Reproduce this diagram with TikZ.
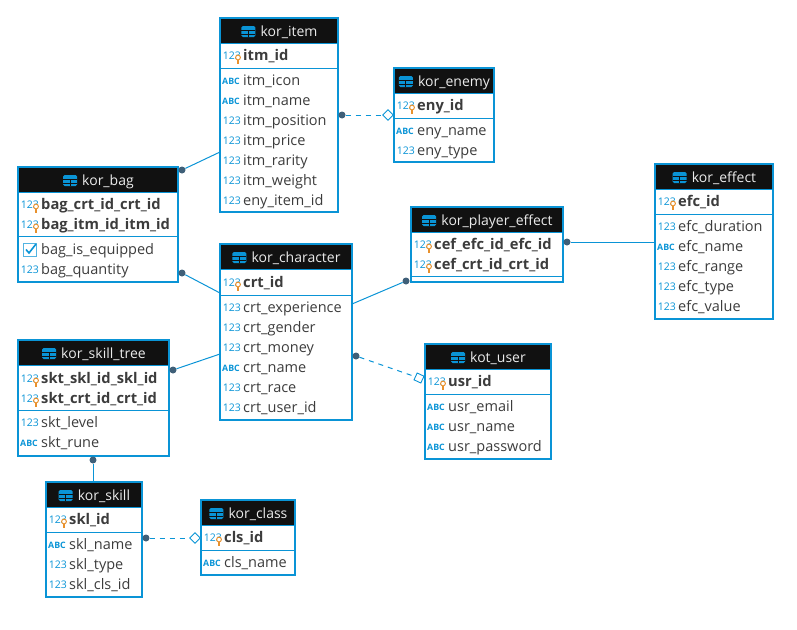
\documentclass[tikz,border=0pt]{standalone}
\usepackage{fontspec}
\setmainfont{Open Sans}
\usetikzlibrary{shapes.geometric}
\definecolor{erblue}{HTML}{0A94D6}
\definecolor{erink}{HTML}{3C3C3C}
\definecolor{erhead}{HTML}{111111}
\definecolor{erdot}{HTML}{3F5F78}
\definecolor{erbulb}{HTML}{E8912D}

\newcommand{\entity}[6]{% id, title, left, top, width, height
  \node[headbar, minimum width=#5] (#1-head) at (#3,#4) {};
  \node[tablebox, minimum width=#5, minimum height=#6] (#1) at (#3,#4) {};
  \node[headtitle] (#1-title) at ([xshift=10pt,yshift=-2pt]#1-head.center) {#2};
  \pic at ([xshift=-12pt,yshift=1pt]#1-title.west) {tableicon};
  \draw[rowrule] (#1-head.south west) -- (#1-head.south east);
}
\newcommand{\keyrows}[3]{% id, text x, rows
  \foreach \y/\t in {#3} {
    \node[keycol, name=#1-\y] at (#2,\y+1) {\t};
    \pic at ([xshift=-5pt,yshift=-3pt]#1-\y.west) {keybulb};
  }
}
\newcommand{\plainrows}[3]{% id, text x, rows
  \foreach \y/\kind/\t in {#3}
    \node[\kind, name=#1-\y] at (#2,\y+1) {\t};
}
\newcommand{\rowsplit}[2]{% id, y
  \draw[rowrule] (#1.west |- 0,#2) -- (#1.east |- 0,#2);
}

\begin{document}
\begin{tikzpicture}[x=1pt, y=-1pt,
    tablebox/.style={draw=erblue, line width=2pt, anchor=north west, inner sep=0pt, outer sep=0pt},
    headbar/.style={fill=erhead, anchor=north west, inner sep=0pt, outer sep=0pt, minimum height=25pt},
    headtitle/.style={text=white!92!black, font=\fontsize{14}{14}\selectfont, inner sep=0pt},
    rowrule/.style={erblue, line width=1pt},
    colname/.style={anchor=west, inner sep=0pt, text=erink, text height=10pt, text depth=3pt,
                    font=\fontsize{14.5}{14}\selectfont},
    typetag/.style={text=erblue, inner sep=0pt, yshift=1pt},
    numcol/.style={colname, label={[typetag, font=\fontsize{10.5}{10}\selectfont, label distance=2pt]left:123}},
    abccol/.style={colname, label={[typetag, font=\fontsize{8.8}{8}\bfseries\selectfont, label distance=3pt]left:ABC}},
    boolcol/.style={colname},
    keycol/.style={numcol, font=\fontsize{14.7}{14}\bfseries\selectfont},
    fkdot/.style={circle, fill=erdot, inner sep=0pt, minimum size=7pt},
    fkhollow/.style={diamond, draw=erblue, fill=white, line width=0.9pt, inner sep=0pt,
                     minimum width=11pt, minimum height=11pt},
    link/.style={erblue, line width=1pt},
    softlink/.style={link, dash pattern=on 5pt off 5pt},
    tableicon/.pic={
      \fill[erblue, rounded corners=1.5pt] (-7,-5.5) rectangle (7,5.5);
      \draw[erhead, line width=0.9pt] (-7,-1) -- (7,-1) (-7,2.5) -- (7,2.5) (0,-1) -- (0,5.5);
    },
    keybulb/.pic={
      \draw[erbulb, fill=white, line width=1pt] (0,-2.5) circle (2.4);
      \draw[erbulb, line width=1.2pt] (0,0) -- (0,3.5);
    },
    checkbox/.pic={
      \draw[erblue!70, line width=1pt] (-6.5,-6.5) rectangle (6.5,6.5);
      \draw[erblue, line width=1.6pt] (-4,-0.5) -- (-1,3) -- (6,-6);
    }]
  \useasboundingbox (0,0) rectangle (797,629);

  \entity{item}{kor\_item}{220}{18}{118}{194}
  \keyrows{item}{243}{56/itm\_id}
  \rowsplit{item}{68}
  \plainrows{item}{243}{81/abccol/itm\_icon, 101/abccol/itm\_name, 121/numcol/itm\_position,
    141/numcol/itm\_price, 161/numcol/itm\_rarity, 181/numcol/itm\_weight, 201/numcol/eny\_item\_id}

  \entity{enemy}{kor\_enemy}{394}{68}{100}{94}
  \keyrows{enemy}{417}{106/eny\_id}
  \rowsplit{enemy}{118}
  \plainrows{enemy}{417}{131/abccol/eny\_name, 151/numcol/eny\_type}

  \entity{bag}{kor\_bag}{18}{167}{160}{115}
  \keyrows{bag}{41}{205/bag\_crt\_id\_crt\_id, 225/bag\_itm\_id\_itm\_id}
  \rowsplit{bag}{236.5}
  \plainrows{bag}{41}{250/boolcol/bag\_is\_equipped, 270/numcol/bag\_quantity}
  \pic at (30,250) {checkbox};

  \entity{character}{kor\_character}{220}{244}{132}{176}
  \keyrows{character}{243}{283/crt\_id}
  \rowsplit{character}{295}
  \plainrows{character}{243}{308/numcol/crt\_experience, 328/numcol/crt\_gender, 348/numcol/crt\_money,
    368/abccol/crt\_name, 388/numcol/crt\_race, 408/numcol/crt\_user\_id}

  \entity{playereffect}{kor\_player\_effect}{411}{207}{152}{75}
  \keyrows{playereffect}{434}{245/cef\_efc\_id\_efc\_id, 265/cef\_crt\_id\_crt\_id}
  \rowsplit{playereffect}{276}

  \entity{effect}{kor\_effect}{655}{164}{118}{155}
  \keyrows{effect}{678}{202/efc\_id}
  \rowsplit{effect}{214}
  \plainrows{effect}{678}{227/numcol/efc\_duration, 247/abccol/efc\_name, 267/numcol/efc\_range,
    287/numcol/efc\_type, 307/numcol/efc\_value}

  \entity{user}{kot\_user}{425}{344}{126}{115}
  \keyrows{user}{448}{382/usr\_id}
  \rowsplit{user}{394}
  \plainrows{user}{448}{407/abccol/usr\_email, 427/abccol/usr\_name, 447/abccol/usr\_password}

  \entity{skilltree}{kor\_skill\_tree}{18}{340}{151}{116}
  \keyrows{skilltree}{41}{379/skt\_skl\_id\_skl\_id, 399/skt\_crt\_id\_crt\_id}
  \rowsplit{skilltree}{410}
  \plainrows{skilltree}{41}{423/numcol/skt\_level, 443/abccol/skt\_rune}

  \entity{skill}{kor\_skill}{46}{482}{96}{115}
  \keyrows{skill}{69}{520/skl\_id}
  \rowsplit{skill}{532}
  \plainrows{skill}{69}{545/abccol/skl\_name, 565/numcol/skl\_type, 585/numcol/skl\_cls\_id}

  \entity{class}{kor\_class}{201}{500}{94}{75}
  \keyrows{class}{224}{538/cls\_id}
  \rowsplit{class}{550}
  \plainrows{class}{224}{563/abccol/cls\_name}

  % foreign keys
  \node[fkdot] (bagtoitem) at (182,170) {};
  \node[fkdot] (bagtochar) at (182,273) {};
  \node[fkdot] (treetochar) at (173,370) {};
  \node[fkdot] (efftochar) at (406,281) {};
  \node[fkdot] (efftoeffect) at (567,242) {};
  \node[fkdot] (treetoskill) at (93,460) {};
  \node[fkdot] (itemtoenemy) at (342,115) {};
  \node[fkdot] (chartouser) at (356,356) {};
  \node[fkdot] (skilltoclass) at (146,538) {};
  \node[fkhollow] (enemyend) at (388,115) {};
  \node[fkhollow, rotate=20] (userend) at (419,378) {};
  \node[fkhollow] (classend) at (195,538) {};

  \draw[link] (bagtoitem) -- ([yshift=-37pt]item.west);
  \draw[link] (bagtochar) -- ([yshift=39pt]character.west);
  \draw[link] (treetochar) -- ([yshift=-22pt]character.west);
  \draw[link] (efftochar) -- ([yshift=28pt]character.east);
  \draw[link] (efftoeffect) -- ([yshift=-0.5pt]effect.west);
  \draw[link] (treetoskill) -- ([xshift=-1pt]skill.north);
  \draw[softlink] (itemtoenemy) -- (enemyend);
  \draw[softlink] (chartouser) -- (userend);
  \draw[softlink] (skilltoclass) -- (classend);
\end{tikzpicture}
\end{document}
